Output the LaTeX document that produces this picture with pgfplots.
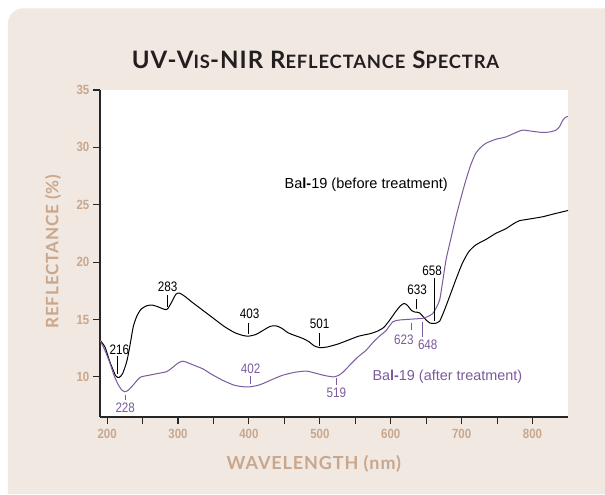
\documentclass[border=0pt]{standalone}
\usepackage{pgfplots}
\pgfplotsset{compat=1.18}
\usepackage{fontspec}
\setmainfont{Liberation Sans}
\newfontfamily\tickfont[FakeStretch=0.86]{Liberation Sans}
\newfontfamily\numfont[FakeStretch=0.85]{Liberation Sans}
\newfontfamily\titlefont[LetterSpace=4.5]{Lato}
\newfontfamily\labelfont[LetterSpace=5]{Lato}
\definecolor{bg}{HTML}{F1E8E2}
\definecolor{tan}{HTML}{C9A78C}
\definecolor{purp}{HTML}{7B5B9C}
\definecolor{ttl}{HTML}{231F20}
\newcommand{\smc}[1]{{\fontsize{13.8pt}{14pt}\selectfont #1}}
\begin{document}
\begin{tikzpicture}
\useasboundingbox (-75pt,-57.75pt) rectangle (378.75pt,312.75pt);
\fill[white] (-75pt,-57.75pt) rectangle (378.75pt,312.75pt);
\fill[bg] (-69pt,-57.75pt) -- (-69pt,295.15pt) arc[start angle=180,end angle=90,radius=11.25pt] -- (378.75pt,306.4pt) -- (378.75pt,-57.75pt) -- cycle;
\begin{axis}[
  at={(0pt,0pt)}, anchor=origin,
  scale only axis, width=351pt, height=245.25pt,
  xmin=190, xmax=850, ymin=6.5, ymax=35,
  axis x line*=bottom, axis y line*=left,
  axis line style={-, line width=0.8pt, black!85},
  axis background/.style={fill=white},
  xtick={200,300,...,800}, minor xtick={250,350,...,750},
  ytick={10,15,...,35},
  tick align=outside, major tick length=5pt, minor tick length=5pt,
  every tick/.style={line width=0.8pt, black!85},
  /pgf/number format/assume math mode=true,
  ticklabel style={font=\tickfont\bfseries\fontsize{10pt}{10pt}\selectfont, text=tan},
  yticklabel style={xshift=0.5pt},
  xticklabel style={yshift=-0.5pt},
  xlabel={WAVELENGTH (nm)},
  ylabel={REFLECTANCE (\%)},
  xlabel style={font=\labelfont\bfseries\fontsize{13.5pt}{14pt}\selectfont, text=tan, at={(axis description cs:0.457,-0.1437)}, anchor=center},
  ylabel style={font=\labelfont\bfseries\fontsize{12.8pt}{13pt}\selectfont, text=tan, at={(axis description cs:-0.1004,0.5055)}, anchor=center},
  title={UV-V\smc{IS}-NIR R\smc{EFLECTANCE} S\smc{PECTRA}},
  title style={font=\titlefont\bfseries\fontsize{18pt}{18pt}\selectfont, text=ttl, at={(axis description cs:0.4605,1.067)}, anchor=center},
]
\addplot[black, line width=0.75pt, smooth, tension=0.4] coordinates {
(190,13.2) (197,12.6) (204,11.3) (212,10.1) (217,9.95) (222,10.3) (228,11.4) (233,13.0) (237,14.4) (242,15.3) (248,15.9) (256,16.2) (264,16.25) (272,16.1) (280,15.9) (285,15.9) (291,16.5) (297,17.2) (302,17.3) (310,17.0) (320,16.5) (335,15.8) (350,15.1) (365,14.4) (380,13.85) (392,13.6) (400,13.55) (410,13.7) (420,14.05) (430,14.4) (438,14.45) (446,14.25) (455,13.85) (465,13.6) (476,13.35) (485,13.05) (492,12.7) (500,12.55) (510,12.6) (525,12.85) (540,13.2) (555,13.55) (570,13.75) (580,13.95) (590,14.3) (598,14.9) (606,15.6) (613,16.15) (619,16.4) (624,16.2) (629,15.8) (634,15.65) (640,15.6) (645,15.3) (650,14.95) (655,14.7) (660,14.65) (665,14.7) (669,14.85) (675,15.7) (683,17.0) (692,18.5) (701,19.9) (710,20.9) (720,21.5) (735,22.0) (748,22.5) (762,22.9) (772,23.3) (781,23.6) (795,23.75) (814,23.95) (830,24.2) (850,24.5)
};
\addplot[purp, line width=0.75pt, smooth, tension=0.4] coordinates {
(190,13.2) (197,12.3) (204,11.2) (210,10.1) (215,9.4) (220,8.9) (225,8.7) (230,8.85) (237,9.3) (243,9.75) (248,10.0) (260,10.15) (272,10.3) (284,10.45) (292,10.8) (300,11.2) (307,11.37) (315,11.2) (325,10.95) (335,10.7) (348,10.2) (363,9.7) (378,9.3) (390,9.15) (401,9.13) (412,9.25) (420,9.42) (434,9.8) (448,10.15) (465,10.4) (481,10.5) (495,10.3) (508,10.1) (520,10.0) (527,10.15) (533,10.43) (545,11.2) (555,11.8) (565,12.3) (575,13.0) (585,13.6) (593,14.0) (603,14.8) (612,14.95) (622,15.0) (634,15.05) (645,15.1) (652,15.25) (659,15.5) (664,16.0) (669,16.7) (673,18.2) (678,20.2) (685,22.1) (692,23.95) (699,25.6) (706,27.15) (713,28.5) (720,29.5) (727,30.0) (734,30.35) (748,30.7) (762,30.9) (775,31.25) (786,31.5) (800,31.4) (814,31.3) (825,31.35) (833,31.5) (838,31.8) (842,32.3) (846,32.6) (850,32.7)
};
% black annotations
\begin{scope}[every node/.style={font=\numfont\fontsize{10.3pt}{10pt}\selectfont, inner sep=0pt}]
\draw[black, line width=0.6pt] (axis cs:214.8,11.8) -- (axis cs:214.8,10.24);
\node[black] at (axis cs:217.2,12.34) {216};
\draw[black, line width=0.6pt] (axis cs:285.3,17.15) -- (axis cs:285.3,16.12);
\node[black] at (axis cs:285.3,17.87) {283};
\draw[black, line width=0.6pt] (axis cs:399.6,14.72) -- (axis cs:399.6,13.74);
\node[black] at (axis cs:401,15.46) {403};
\draw[black, line width=0.6pt] (axis cs:499.4,13.8) -- (axis cs:499.4,12.69);
\node[black] at (axis cs:499.8,14.6) {501};
\draw[black, line width=0.6pt] (axis cs:636.3,16.77) -- (axis cs:636.3,15.9);
\node[black] at (axis cs:637.3,17.6) {633};
\draw[black, line width=0.6pt] (axis cs:661.7,18.6) -- (axis cs:661.7,14.9);
\node[black] at (axis cs:658.5,19.27) {658};
% purple annotations
\draw[purp, line width=0.6pt] (axis cs:225.6,8.4) -- (axis cs:225.6,7.96);
\node[purp] at (axis cs:225.6,7.29) {228};
\draw[purp, line width=0.6pt] (axis cs:402,10.06) -- (axis cs:402,9.34);
\node[purp] at (axis cs:402.5,10.67) {402};
\draw[purp, line width=0.6pt] (axis cs:523.4,9.91) -- (axis cs:523.4,9.27);
\node[purp] at (axis cs:523.4,8.6) {519};
\draw[purp, line width=0.6pt] (axis cs:628.8,14.72) -- (axis cs:628.8,14.09);
\node[purp] at (axis cs:618.4,13.27) {623};
\draw[purp, line width=0.6pt] (axis cs:645.2,14.8) -- (axis cs:645.2,13.45);
\node[purp] at (axis cs:652.2,12.77) {648};
\end{scope}
\node[anchor=west, inner sep=0pt, font=\fontsize{10.9pt}{11pt}\selectfont, black] at (axis cs:450,26.73) {Ba\textbf{l-}19 (before treatment)};
\node[anchor=west, inner sep=0pt, font=\fontsize{10.8pt}{11pt}\selectfont, purp] at (axis cs:574,10.0) {Ba\textbf{l-}19 (after treatment)};
\end{axis}
\end{tikzpicture}
\end{document}
